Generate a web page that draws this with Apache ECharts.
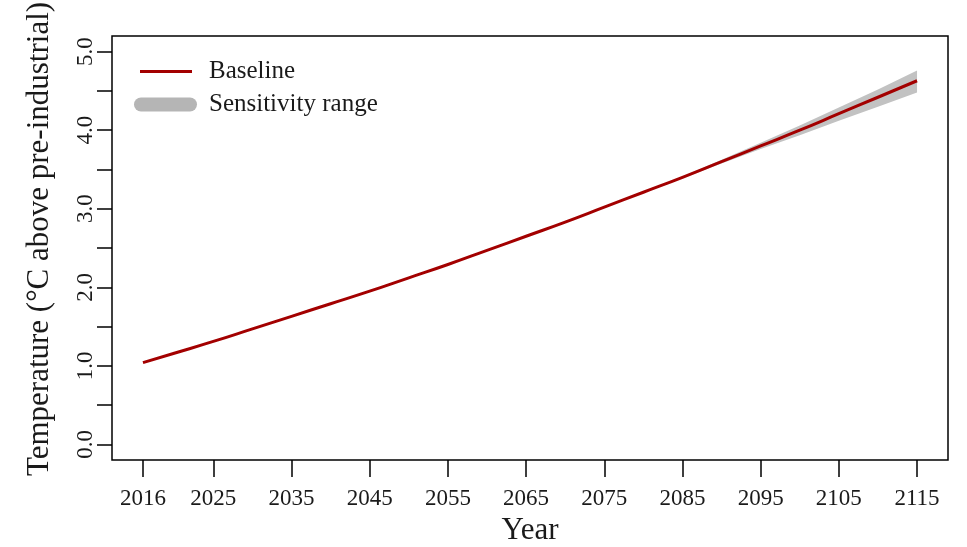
<!DOCTYPE html>
<html>
<head>
<meta charset="utf-8">
<script src="https://cdn.jsdelivr.net/npm/echarts@6/dist/echarts.min.js"></script>
<style>html,body{margin:0;padding:0;background:#fff}#c{width:967px;height:547px}</style>
</head>
<body>
<div id="c"></div>
<script>
const years = [2016, 2020, 2025, 2030, 2035, 2040, 2045, 2050, 2055, 2060, 2065, 2070, 2075, 2080, 2085, 2090, 2095, 2100, 2105, 2110, 2115];
const baseline = [1.04, 1.16, 1.31, 1.47, 1.63, 1.79, 1.95, 2.12, 2.29, 2.47, 2.65, 2.83, 3.02, 3.21, 3.40, 3.60, 3.80, 4.00, 4.21, 4.42, 4.63];
const bandLower = [1.04, 1.16, 1.31, 1.47, 1.63, 1.79, 1.95, 2.12, 2.29, 2.47, 2.65, 2.83, 3.02, 3.205, 3.39, 3.575, 3.76, 3.935, 4.12, 4.30, 4.48];
const bandUpper = [1.04, 1.16, 1.31, 1.47, 1.63, 1.79, 1.95, 2.12, 2.29, 2.47, 2.65, 2.83, 3.02, 3.215, 3.41, 3.625, 3.84, 4.06, 4.29, 4.52, 4.76];
const xTicks = [2016, 2025, 2035, 2045, 2055, 2065, 2075, 2085, 2095, 2105, 2115];
const yTicks = [0, 0.5, 1, 1.5, 2, 2.5, 3, 3.5, 4, 4.5, 5];
const yLabels = [0, 1, 2, 3, 4, 5];

const FONT = 'Liberation Serif';
const TXT = '#1a1a1a';
const chart = echarts.init(document.getElementById('c'), null, {renderer: 'canvas'});
const baseData = years.map((y, i) => [y, baseline[i]]);

function renderBand(params, api) {
  const pts = [];
  for (let i = 0; i < years.length; i++) pts.push(api.coord([years[i], bandUpper[i]]));
  for (let i = years.length - 1; i >= 0; i--) pts.push(api.coord([years[i], bandLower[i]]));
  return {type: 'polygon', shape: {points: pts}, style: {fill: '#c2c2c2', stroke: null}, silent: true};
}

chart.setOption({
  animation: false,
  backgroundColor: '#fff',
  grid: {left: 112, right: 19, top: 36, bottom: 87, outerBoundsMode: 'none', containLabel: false,
         show: true, borderColor: '#000', borderWidth: 1.5, backgroundColor: 'transparent'},
  legend: [
    {data: ['Baseline'], left: 135, top: 54, icon: 'rect', itemWidth: 52, itemHeight: 3,
     textStyle: {fontFamily: FONT, fontSize: 25, color: TXT, padding: [0, 0, 0, 12]}, selectedMode: false},
    {data: ['Sensitivity range'], left: 129, top: 87,
     icon: 'path://M7,0 L56,0 A7,7 0 0 1 56,14 L7,14 A7,7 0 0 1 7,0 Z', itemWidth: 63, itemHeight: 14,
     itemStyle: {color: '#b5b5b5'},
     textStyle: {fontFamily: FONT, fontSize: 25, color: TXT, padding: [0, 0, 0, 7]}, selectedMode: false}
  ],
  xAxis: {
    type: 'value', min: 2012.04, max: 2118.96,
    name: 'Year', nameLocation: 'middle', nameGap: 52,
    nameTextStyle: {fontFamily: FONT, fontSize: 31, color: TXT},
    axisLine: {show: false, onZero: false},
    axisTick: {show: true, inside: false, customValues: xTicks, length: 17, lineStyle: {color: '#000', width: 1.5}},
    axisLabel: {customValues: xTicks, fontFamily: FONT, fontSize: 23, color: TXT, margin: 27,
      formatter: v => String(v)},
    splitLine: {show: false}
  },
  yAxis: {
    type: 'value', min: -0.2, max: 5.2,
    name: 'Temperature (°C above pre-industrial)', nameLocation: 'middle', nameGap: 57,
    nameTextStyle: {fontFamily: FONT, fontSize: 31, color: TXT, padding: [0, 0, 0, 18]},
    axisLine: {show: false, onZero: false},
    axisTick: {show: true, inside: false, customValues: yTicks, length: 15, lineStyle: {color: '#000', width: 1.5}},
    axisLabel: {customValues: yLabels, rotate: 90, fontFamily: FONT, fontSize: 23, color: TXT, margin: 15,
      formatter: v => v.toFixed(1)},
    splitLine: {show: false}
  },
  series: [
    {name: 'Sensitivity range', type: 'custom', renderItem: renderBand, data: [[years[0], bandLower[0]]],
     itemStyle: {color: '#b5b5b5'}, clip: true, silent: true, z: 2},
    {name: 'Baseline', type: 'line', data: baseData, showSymbol: false, smooth: true,
     lineStyle: {color: '#a30000', width: 3}, itemStyle: {color: '#a30000'}, z: 5}
  ]
});
</script>
</body>
</html>
